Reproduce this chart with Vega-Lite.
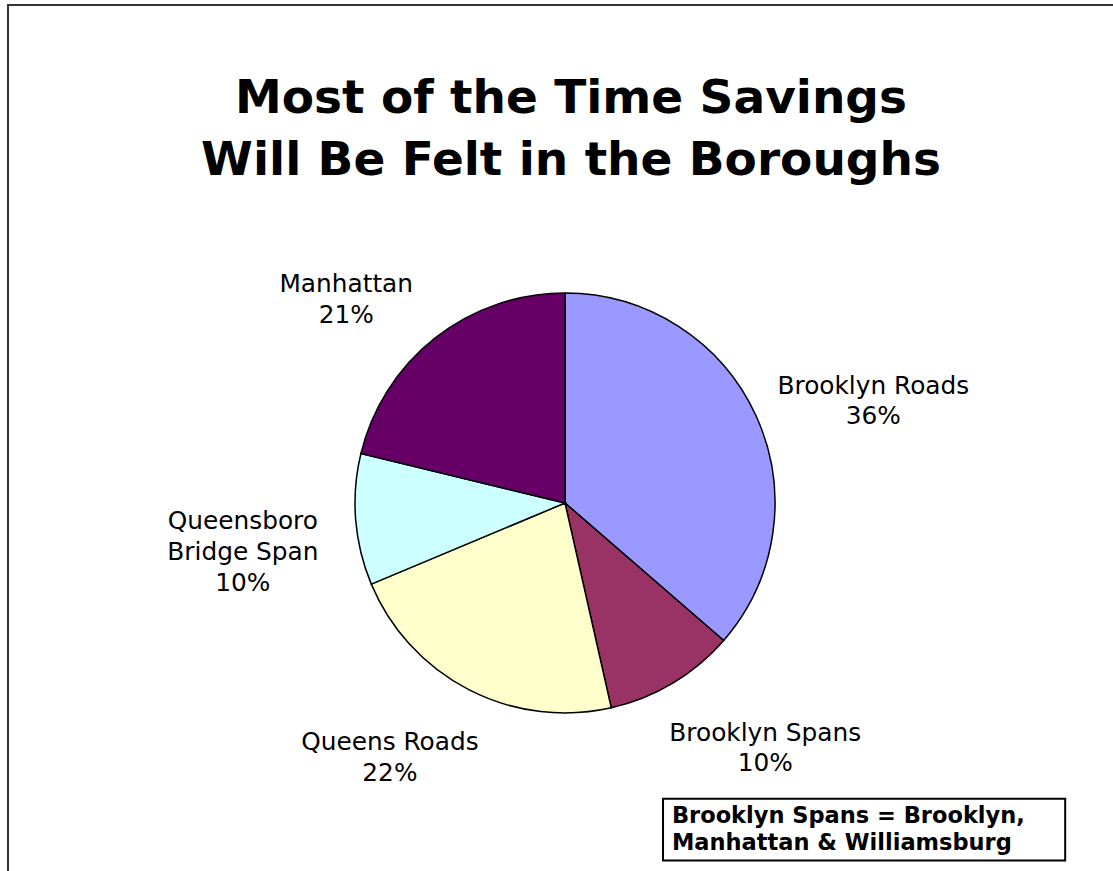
{
  "$schema": "https://vega.github.io/schema/vega-lite/v6.json",
  "width": 1114,
  "height": 996,
  "autosize": {"type": "none"},
  "padding": {"left": 8, "top": 5, "right": 0, "bottom": 0},
  "background": "white",
  "config": {"view": {"stroke": "#333333", "strokeWidth": 2}, "font": "DejaVu Sans"},
  "title": {
    "text": ["Most of the Time Savings", "Will Be Felt in the Boroughs"],
    "font": "DejaVu Sans",
    "fontSize": 47,
    "fontWeight": "bold",
    "lineHeight": 62,
    "color": "black",
    "anchor": "middle",
    "dx": 6,
    "offset": -180
  },
  "layer": [
    {
      "data": {"values": [{"note": "Brooklyn Spans = Brooklyn,\nManhattan & Williamsburg"}]},
      "layer": [
        {
          "mark": {"type": "rect", "fill": "white", "stroke": "black", "strokeWidth": 2},
          "encoding": {
            "x": {"datum": 0.588, "type": "quantitative", "scale": {"domain": [0, 1]}, "axis": null},
            "x2": {"datum": 0.949},
            "y": {"datum": 0.203, "type": "quantitative", "scale": {"domain": [0, 1]}, "axis": null},
            "y2": {"datum": 0.141}
          }
        },
        {
          "mark": {"type": "text", "align": "left", "baseline": "alphabetic", "fontSize": 22.5, "fontWeight": "bold", "lineHeight": 27, "lineBreak": "\n", "color": "black", "font": "DejaVu Sans"},
          "encoding": {
            "x": {"datum": 0.596, "type": "quantitative"},
            "y": {"datum": 0.179, "type": "quantitative"},
            "text": {"field": "note"}
          }
        }
      ]
    },
    {
      "data": {
        "values": [
          {"k": 1, "name": "Brooklyn Roads", "label": "Brooklyn Roads\n36%", "value": 36},
          {"k": 2, "name": "Brooklyn Spans", "label": "Brooklyn Spans\n10%", "value": 10},
          {"k": 3, "name": "Queens Roads", "label": "Queens Roads\n22%", "value": 22},
          {"k": 4, "name": "Queensboro Bridge Span", "label": "Queensboro\nBridge Span\n10%", "value": 10},
          {"k": 5, "name": "Manhattan", "label": "Manhattan\n21%", "value": 21}
        ]
      },
      "layer": [
        {
          "mark": {"type": "arc", "outerRadius": 210, "stroke": "black", "strokeWidth": 1.5},
          "encoding": {
            "theta": {"field": "value", "type": "quantitative", "stack": true},
            "order": {"field": "k", "type": "quantitative"},
            "color": {
              "field": "name",
              "type": "nominal",
              "scale": {
                "domain": ["Brooklyn Roads", "Brooklyn Spans", "Queens Roads", "Queensboro Bridge Span", "Manhattan"],
                "range": ["#9999FF", "#993366", "#FFFFCC", "#CCFFFF", "#660066"]
              },
              "legend": null
            }
          }
        },
        {
          "mark": {"type": "text", "radius": 273, "dx": 60, "dy": -3, "fontSize": 24.8, "lineHeight": 30, "lineBreak": "\n", "align": "center", "baseline": "middle", "color": "black", "font": "DejaVu Sans"},
          "encoding": {
            "theta": {"field": "value", "type": "quantitative", "stack": true},
            "order": {"field": "k", "type": "quantitative"},
            "text": {"condition": {"test": "datum.k <= 2", "field": "label"}, "value": ""}
          }
        },
        {
          "mark": {"type": "text", "radius": 273, "dx": -50, "dy": -3, "fontSize": 24.8, "lineHeight": 31, "lineBreak": "\n", "align": "center", "baseline": "middle", "color": "black", "font": "DejaVu Sans"},
          "encoding": {
            "theta": {"field": "value", "type": "quantitative", "stack": true},
            "order": {"field": "k", "type": "quantitative"},
            "text": {"condition": {"test": "datum.k > 2", "field": "label"}, "value": ""}
          }
        }
      ]
    }
  ]
}
